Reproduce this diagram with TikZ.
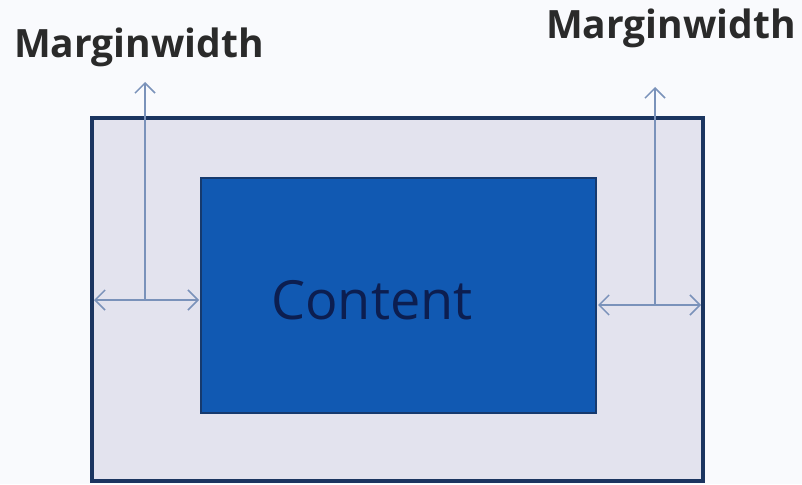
\documentclass[tikz,border=0pt]{standalone}
\usepackage{fontspec}
\setmainfont{Open Sans}
\usetikzlibrary{arrows.meta}
\definecolor{bgc}{HTML}{F9FAFD}
\definecolor{outerfill}{HTML}{E3E3EE}
\definecolor{outerline}{HTML}{1B3560}
\definecolor{innerfill}{HTML}{1159B2}
\definecolor{innerline}{HTML}{163A6E}
\definecolor{arrowc}{HTML}{7A92BA}
\definecolor{contentc}{HTML}{0C1E50}
\definecolor{labelc}{HTML}{2A2A2A}
\tikzset{
  outerbox/.style={draw=outerline, line width=3.5pt, fill=outerfill},
  innerbox/.style={draw=innerline, line width=2pt, fill=innerfill},
  dim/.style={draw=arrowc, line width=1.8pt, -{Straight Barb[length=10pt,width=20pt,line width=1.5pt]}},
  ddim/.style={draw=arrowc, line width=1.8pt, {Straight Barb[length=10pt,width=20pt,line width=1.5pt]}-{Straight Barb[length=10pt,width=20pt,line width=1.5pt]}},
  lbl/.style={font=\bfseries\fontsize{39}{42}\selectfont, text=labelc, inner sep=0pt}
}
\begin{document}
\begin{tikzpicture}[x=1pt,y=-1pt]
\useasboundingbox (0,0) rectangle (802,484);
\fill[bgc] (0,0) rectangle (802,484);
\draw[outerbox] (92,118) rectangle (703,481);
\draw[innerbox] (201,178) rectangle (596,413);
\node[font=\fontsize{54}{58}\selectfont, text=contentc, inner sep=0pt] (content) at (372,300) {Content};
% left
\coordinate (lv) at (145,300);
\coordinate (lt) at (145,82);
\coordinate (ll) at (94,300);
\coordinate (lr) at (199,300);
\draw[dim] (lv) -- (lt);
\draw[ddim] (ll) -- (lr);
% right
\coordinate (rv) at (655,305);
\coordinate (rt) at (655,87);
\coordinate (rl) at (598,305);
\coordinate (rr) at (701,305);
\draw[dim] (rv) -- (rt);
\draw[ddim] (rl) -- (rr);
\node[lbl] (lab1) at (139,47) {Marginwidth};
\node[lbl] (lab2) at (671,28) {Marginwidth};
\end{tikzpicture}
\end{document}
